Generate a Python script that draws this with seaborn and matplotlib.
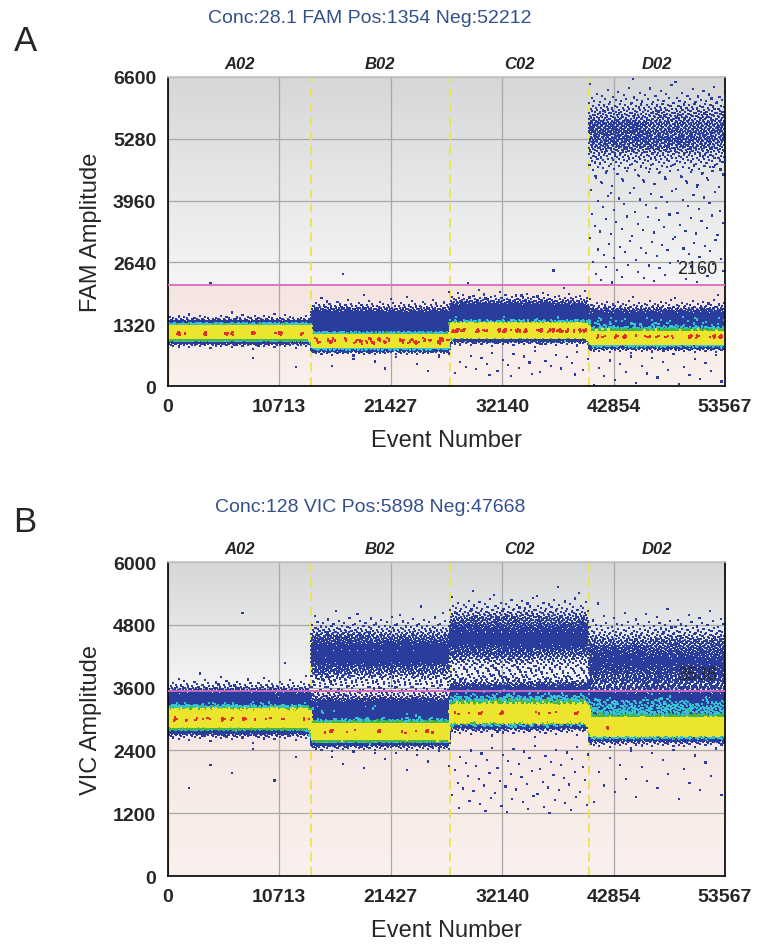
import numpy as np
import pandas as pd
import seaborn as sns
import matplotlib.pyplot as plt
from statistics import NormalDist

# wells and event axis (shared by both panels)
wells = ["A02", "B02", "C02", "D02"]
well_edges = [0, 13750, 27100, 40450, 53567]
x_ticks = [0, 10713, 21427, 32140, 42854, 53567]

# panel A : FAM channel, cluster summaries
fam_title = "Conc:28.1 FAM Pos:1354 Neg:52212"
fam_threshold = 2160
fam_ticks = [0, 1320, 2640, 3960, 5280, 6600]
fam_neg_center = [1140, 960, 1180, 1030]
fam_neg_sd = [90, 85, 90, 90]
fam_upper_center = [1280, 1350, 1500, 1350]
fam_upper_sd = [90, 170, 170, 170]
fam_upper_count = [800, 2300, 2300, 2400]
fam_pos_center = [0, 0, 0, 5400]
fam_pos_sd = [0, 0, 0, 380]
fam_pos_count = [0, 0, 0, 1230]
fam_rain_lo = [1800, 1800, 1800, 2200]
fam_rain_hi = [2600, 2600, 2600, 4700]
fam_rain_count = [1, 2, 3, 124]
fam_drop_lo = [300, 300, 200, 0]
fam_drop_hi = [700, 700, 750, 700]
fam_drop_count = [2, 8, 30, 25]

# panel B : VIC channel
vic_title = "Conc:128 VIC Pos:5898 Neg:47668"
vic_threshold = 3536
vic_ticks = [0, 1200, 2400, 3600, 4800, 6000]
vic_neg_center = [3000, 2750, 3100, 2850]
vic_neg_sd = [115, 105, 115, 115]
vic_upper_center = [3320, 3130, 3420, 3250]
vic_upper_sd = [160, 180, 160, 180]
vic_upper_count = [1700, 2000, 2000, 2400]
vic_pos_center = [0, 4250, 4560, 4100]
vic_pos_sd = [0, 260, 280, 320]
vic_pos_count = [0, 1900, 1880, 1890]
vic_rain_lo = [3600, 3600, 3600, 3600]
vic_rain_hi = [5500, 3900, 4000, 3900]
vic_rain_count = [2, 60, 80, 88]
vic_drop_lo = [1600, 2000, 1200, 1400]
vic_drop_hi = [2500, 2500, 2500, 2500]
vic_drop_count = [6, 12, 70, 25]

level_colors = {"blue": "#2b3d9c", "cyan": "#36c4d0", "green": "#45b64a",
                "yellow": "#ece52e", "red": "#e0302a"}
level_cuts = [0.24, 0.33, 0.44, 1.085]

nd = NormalDist()


def radical_inverse(j, base):
    # van der Corput sequence, used only to spread events evenly
    j = np.asarray(j).copy()
    r = np.zeros(len(j))
    f = 1.0
    while (j > 0).any():
        f /= base
        r += f * (j % base)
        j //= base
    return r


def events_for_channel(neg_c, neg_sd, up_c, up_sd, up_n, pos_c, pos_sd, pos_n,
                       r_lo, r_hi, r_n, d_lo, d_hi, d_n):
    xs, ys, ws = [], [], []
    for i in range(len(wells)):
        start, stop = well_edges[i], well_edges[i + 1]
        n = stop - start
        neg_n = n - up_n[i] - pos_n[i] - r_n[i] - d_n[i]
        amps = []
        for c, sd, k in [(neg_c[i], neg_sd[i], neg_n), (up_c[i], up_sd[i], up_n[i]),
                         (pos_c[i], pos_sd[i], pos_n[i])]:
            if k > 0:
                q = (np.arange(k) + 0.5) / k
                amps.append(c + sd * np.array([nd.inv_cdf(v) for v in q]))
        for lo, hi, k in [(r_lo[i], r_hi[i], r_n[i]), (d_lo[i], d_hi[i], d_n[i])]:
            if k > 0:
                amps.append(lo + (hi - lo) * (np.arange(k) + 0.5) / k)
        amps = np.concatenate(amps)
        # spread the clusters along the event order
        slot = np.argsort(np.argsort(radical_inverse(np.arange(n) + 7 * i + 1, 2)))
        xs.append(start + np.arange(n))
        ys.append(amps[slot])
        ws.append(np.full(n, i))
    return pd.DataFrame({"event": np.concatenate(xs), "amp": np.concatenate(ys),
                         "well": np.concatenate(ws)})


def add_levels(df, ymax):
    h, xe, ye = np.histogram2d(df["event"], df["amp"], bins=[186, 103],
                               range=[[0, well_edges[-1]], [0, ymax]])
    ix = np.clip(np.digitize(df["event"], xe) - 1, 0, h.shape[0] - 1)
    iy = np.clip(np.digitize(df["amp"], ye) - 1, 0, h.shape[1] - 1)
    raw = pd.Series(h[ix, iy], index=df.index)
    dens = (raw / raw.groupby(df["well"]).transform("max")).to_numpy()
    # ordered dither so neighbouring colour levels mix like the instrument plot
    dens = dens + 0.22 * (radical_inverse(np.arange(len(df)) + 1, 3) - 0.5)
    names = np.array(list(level_colors))
    df["rank"] = np.digitize(dens, level_cuts)
    df["level"] = names[df["rank"]]
    return df.sort_values("rank", kind="stable")


def draw_panel(ax, df, ticks, thr, ylabel):
    xmax, ymax = well_edges[-1], ticks[-1]
    grad = np.linspace(0, 1, 200).reshape(-1, 1)
    upper = plt.matplotlib.colors.LinearSegmentedColormap.from_list("u", ["#f5f5f5", "#d5d7d9"])
    lower = plt.matplotlib.colors.LinearSegmentedColormap.from_list("l", ["#faf0ed", "#f5e5e1"])
    ax.imshow(grad, cmap=upper, extent=(0, xmax, thr, ymax), origin="lower", aspect="auto", zorder=0)
    ax.imshow(grad, cmap=lower, extent=(0, xmax, 0, thr), origin="lower", aspect="auto", zorder=0)
    sns.scatterplot(data=df, x="event", y="amp", hue="level", palette=level_colors,
                    hue_order=list(level_colors), marker="s", s=2.4, linewidth=0,
                    legend=False, ax=ax, zorder=2, rasterized=True)
    for e in well_edges[1:-1]:
        ax.axvline(e, color="#efe24a", lw=1.3, ls=(0, (5, 3)), zorder=1.5)
    ax.axhline(thr, color="#d46cc2", lw=1.3, zorder=3)
    ax.annotate(str(thr), xy=(50900, thr), xytext=(0, 6), textcoords="offset points",
                ha="center", va="bottom", fontsize=13, zorder=4)
    ax.set_xlim(0, xmax)
    ax.set_ylim(0, ymax)
    ax.set_xticks(x_ticks)
    ax.set_yticks(ticks)
    ax.grid(True, color="#a8a8a8", lw=0.9)
    ax.set_axisbelow(True)
    ax.tick_params(direction="out", length=5, width=1.1, labelsize=14, color="black")
    for lab in ax.get_xticklabels() + ax.get_yticklabels():
        lab.set_fontweight("bold")
    ax.set_xlabel("Event Number", fontsize=17, labelpad=10)
    ax.set_ylabel(ylabel, fontsize=17, labelpad=8)
    for sp in ax.spines.values():
        sp.set_color("black")
        sp.set_linewidth(1.2)
    ax.spines["top"].set_color("#c4c4c4")
    for i, w in enumerate(wells):
        ax.text((well_edges[i] + well_edges[i + 1]) / 2, 1.02, w, transform=ax.get_xaxis_transform(),
                ha="center", va="bottom", fontsize=12, weight="bold", style="italic")


sns.set_style("white")
plt.rcParams["font.family"] = ["Liberation Sans", "DejaVu Sans"]

fam = add_levels(events_for_channel(fam_neg_center, fam_neg_sd, fam_upper_center, fam_upper_sd,
                                    fam_upper_count, fam_pos_center, fam_pos_sd, fam_pos_count,
                                    fam_rain_lo, fam_rain_hi, fam_rain_count,
                                    fam_drop_lo, fam_drop_hi, fam_drop_count), fam_ticks[-1])
vic = add_levels(events_for_channel(vic_neg_center, vic_neg_sd, vic_upper_center, vic_upper_sd,
                                    vic_upper_count, vic_pos_center, vic_pos_sd, vic_pos_count,
                                    vic_rain_lo, vic_rain_hi, vic_rain_count,
                                    vic_drop_lo, vic_drop_hi, vic_drop_count), vic_ticks[-1])

fig = plt.figure(figsize=(7.59, 9.53), dpi=100)
ax_a = fig.add_axes([0.2213, 0.5939, 0.7339, 0.3243])
ax_b = fig.add_axes([0.2213, 0.0797, 0.7339, 0.3295])
draw_panel(ax_a, fam, fam_ticks, fam_threshold, "FAM Amplitude")
draw_panel(ax_b, vic, vic_ticks, vic_threshold, "VIC Amplitude")

fig.text(0.4875, 0.981, fam_title, ha="center", va="center", fontsize=14, color="#34508a")
fig.text(0.4875, 0.467, vic_title, ha="center", va="center", fontsize=14, color="#34508a")
fig.text(0.033, 0.956, "A", ha="center", va="center", fontsize=25)
fig.text(0.033, 0.452, "B", ha="center", va="center", fontsize=25)

fig.savefig("out.png", dpi=100)
